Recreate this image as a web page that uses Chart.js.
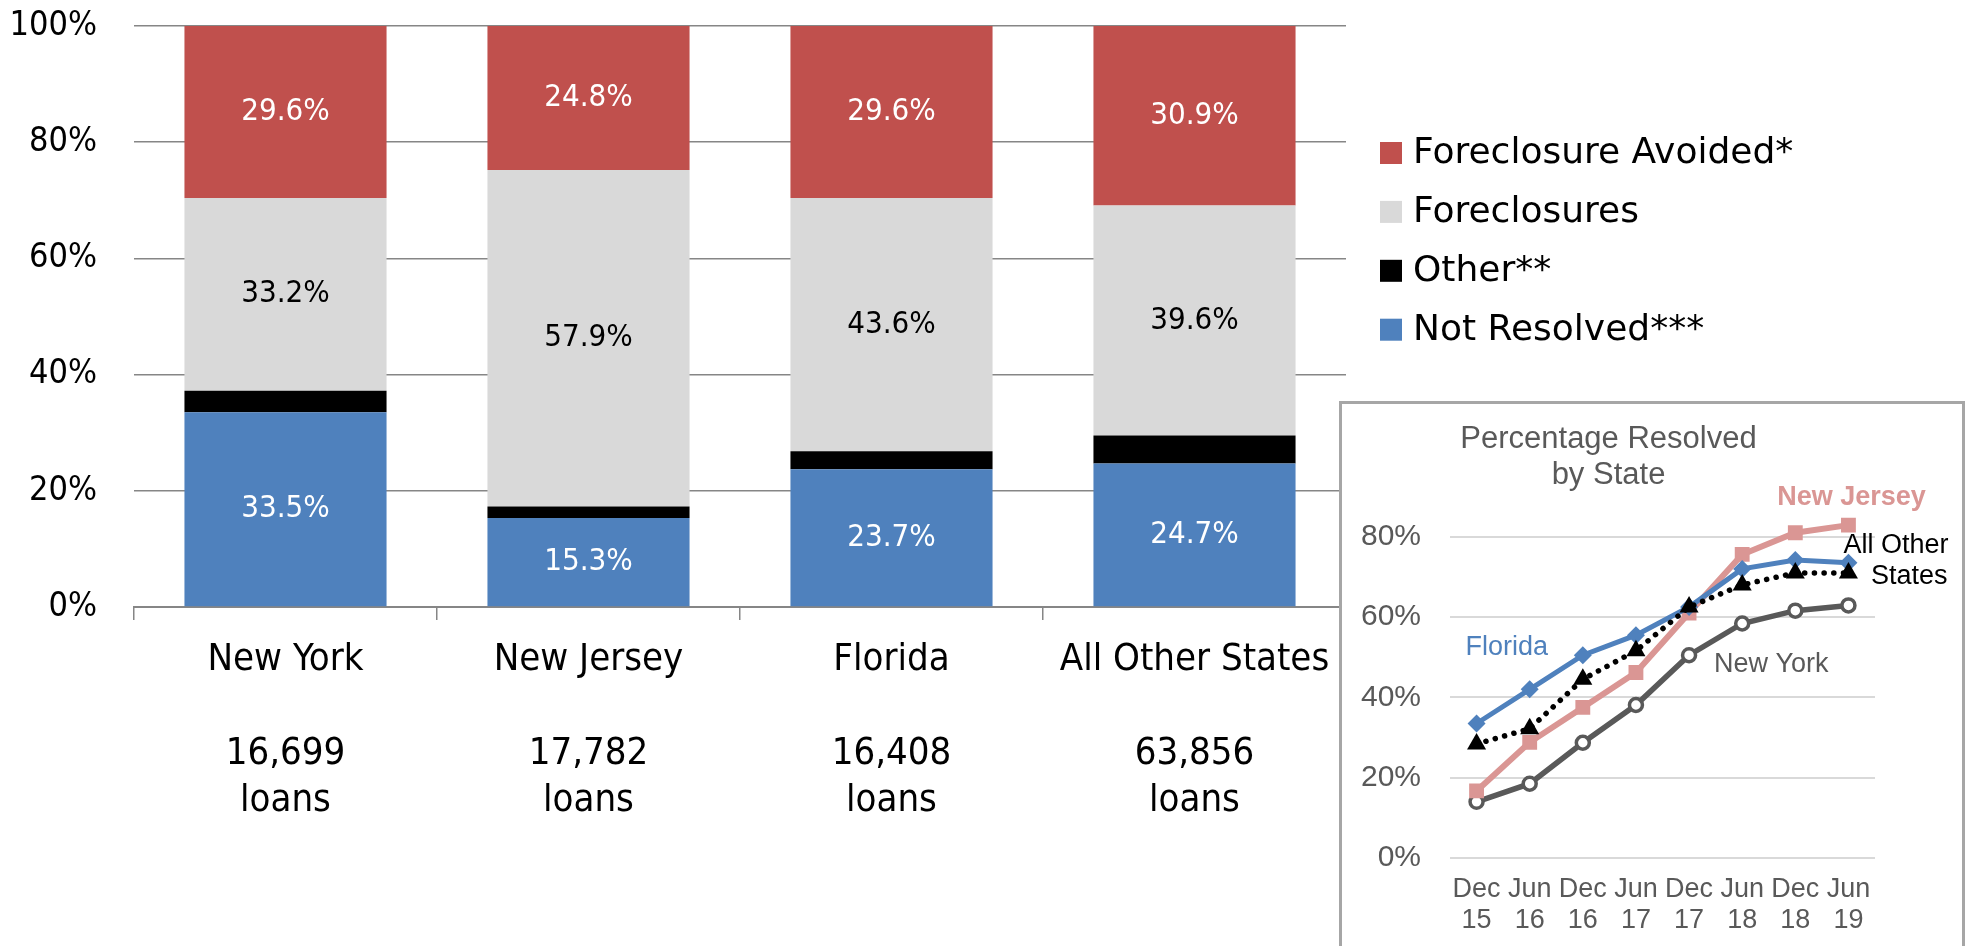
<!DOCTYPE html>
<html>
<head>
<meta charset="utf-8">
<script src="https://cdn.jsdelivr.net/npm/chart.js@4.4.1/dist/chart.umd.min.js"></script>
<style>
  html, body { margin: 0; padding: 0; background: #fff; }
  body { width: 1965px; height: 946px; position: relative; overflow: hidden; }
  #main-chart { position: absolute; left: 0; top: 0; }
  #inset-box {
    position: absolute; left: 1339px; top: 401px; width: 626px; height: 560px;
    box-sizing: border-box; border: 3px solid #a6a6a6; background: #fff;
  }
  #inset-chart { position: absolute; left: 0; top: 0; }
</style>
</head>
<body>
<canvas id="main-chart" width="1965" height="946"></canvas>
<div id="inset-box">
  <canvas id="inset-chart" width="620" height="542"></canvas>
</div>
<script>
// main stacked bars
const states = ['New York', 'New Jersey', 'Florida', 'All Other States'];
const loanCounts = ['16,699', '17,782', '16,408', '63,856'];
const notResolved = [33.5, 15.3, 23.7, 24.7];
const other = [3.7, 2.0, 3.1, 4.8];
const foreclosures = [33.2, 57.9, 43.6, 39.6];
const avoided = [29.6, 24.8, 29.6, 30.9];

// inset: percentage resolved by state
const periods = [['Dec', '15'], ['Jun', '16'], ['Dec', '16'], ['Jun', '17'],
                 ['Dec', '17'], ['Jun', '18'], ['Dec', '18'], ['Jun', '19']];
const florida = [33.5, 42.0, 50.5, 55.5, 62.5, 72.0, 74.2, 73.5];
const newJersey = [16.7, 28.8, 37.5, 46.2, 61.0, 75.6, 81.0, 82.9];
const newYork = [14.0, 18.5, 28.7, 38.1, 50.5, 58.4, 61.6, 62.9];
const allOther = [28.4, 32.2, 44.5, 51.6, 62.5, 68.0, 71.0, 71.0];

const MAIN_FONT = '"DejaVu Sans Condensed", "DejaVu Sans"';
const LEGEND_FONT = '"DejaVu Sans"';
const INSET_FONT = '"Liberation Sans"';

// series names written next to the lines
const insetNotes = [
  { text: 'New Jersey', index: 7, value: 87.9, dx: 3, align: 'center', color: '#da9694', weight: 'bold' },
  { text: 'All Other', index: 7, value: 75.9, dx: 100, align: 'right', color: '#000000', weight: 'normal' },
  { text: 'States', index: 7, value: 68.2, dx: 99, align: 'right', color: '#000000', weight: 'normal' },
  { text: 'Florida', index: 0, value: 50.5, dx: -11, align: 'left', color: '#4f81bd', weight: 'normal' },
  { text: 'New York', index: 4, value: 46.3, dx: 25, align: 'left', color: '#595959', weight: 'normal' }
];

const barLabels = {
  id: 'barLabels',
  afterDatasetsDraw(chart) {
    const { ctx } = chart;
    ctx.save();
    ctx.font = '31px ' + MAIN_FONT;
    ctx.textAlign = 'center';
    ctx.textBaseline = 'middle';
    chart.data.datasets.forEach((ds, i) => {
      if (!ds.labelColor) return;
      chart.getDatasetMeta(i).data.forEach((bar, j) => {
        const { x, y, base } = bar.getProps(['x', 'y', 'base'], true);
        ctx.fillStyle = ds.labelColor;
        ctx.fillText(ds.data[j].toFixed(1) + '%', x, (y + base) / 2);
      });
    });
    ctx.restore();
  }
};

// legend to the right of the bars, top series first
const sideLegend = {
  id: 'sideLegend',
  afterDraw(chart) {
    const { ctx, chartArea } = chart;
    const items = chart.data.datasets.map(ds => ({ text: ds.label, color: ds.backgroundColor })).reverse();
    ctx.save();
    ctx.font = '36px ' + LEGEND_FONT;
    ctx.textAlign = 'left';
    ctx.textBaseline = 'middle';
    items.forEach((item, i) => {
      const cy = chartArea.top + 127 + i * 58.9;
      ctx.fillStyle = item.color;
      ctx.fillRect(chartArea.right + 34, cy - 11, 22, 22);
      ctx.fillStyle = '#000';
      ctx.fillText(item.text, chartArea.right + 67, cy + 1);
    });
    ctx.restore();
  }
};

const mainChart = new Chart(document.getElementById('main-chart'), {
  type: 'bar',
  data: {
    labels: states.map((s, i) => [s, '', loanCounts[i], 'loans']),
    datasets: [
      { label: 'Not Resolved***', data: notResolved, backgroundColor: '#4f81bd', labelColor: '#ffffff' },
      { label: 'Other**', data: other, backgroundColor: '#000000' },
      { label: 'Foreclosures', data: foreclosures, backgroundColor: '#d9d9d9', labelColor: '#000000' },
      { label: 'Foreclosure Avoided*', data: avoided, backgroundColor: '#c0504d', labelColor: '#ffffff' }
    ]
  },
  options: {
    responsive: false,
    animation: false,
    layout: { padding: { top: 26, right: 619, bottom: 128, left: 0 } },
    datasets: { bar: { barPercentage: 0.667, categoryPercentage: 1, borderWidth: 0 } },
    scales: {
      x: {
        stacked: true,
        grid: { offset: true, drawOnChartArea: false, tickLength: 13, color: '#868686', lineWidth: 1.5 },
        border: { color: '#868686', width: 2 },
        ticks: {
          color: '#000', padding: 17, maxRotation: 0, autoSkip: false,
          font: { family: MAIN_FONT, size: 38, lineHeight: '47px' }
        },
        afterFit(scale) { scale.height = 211; }
      },
      y: {
        stacked: true,
        min: 0,
        max: 100,
        ticks: {
          stepSize: 20, padding: 37, color: '#000',
          font: { family: MAIN_FONT, size: 34 },
          callback: v => v + '%'
        },
        grid: { color: '#868686', lineWidth: 1.5, drawTicks: false },
        border: { display: false },
        afterFit(scale) {
          scale.width = 134;
          scale.paddingTop = 0;
          scale.paddingBottom = 0;
        }
      }
    },
    plugins: {
      legend: { display: false },
      tooltip: { enabled: false }
    }
  },
  plugins: [barLabels, sideLegend]
});

const insetLabels = {
  id: 'insetLabels',
  afterDatasetsDraw(chart) {
    const { ctx, scales: { x, y } } = chart;
    ctx.save();
    ctx.textBaseline = 'alphabetic';
    insetNotes.forEach(n => {
      ctx.font = n.weight + ' 27px ' + INSET_FONT;
      ctx.fillStyle = n.color;
      ctx.textAlign = n.align;
      ctx.fillText(n.text, x.getPixelForValue(n.index) + n.dx, y.getPixelForValue(n.value));
    });
    ctx.restore();
  }
};

const insetChart = new Chart(document.getElementById('inset-chart'), {
  type: 'line',
  data: {
    labels: periods,
    datasets: [
      { label: 'All Other States', data: allOther, borderColor: '#000000', backgroundColor: '#000000',
        borderWidth: 5.5, borderDash: [0.1, 9.6], borderCapStyle: 'round',
        pointStyle: 'triangle', pointRadius: 11, pointBorderWidth: 0 },
      { label: 'Florida', data: florida, borderColor: '#4f81bd', backgroundColor: '#4f81bd',
        borderWidth: 5, pointStyle: 'rectRot', pointRadius: 9, pointBorderWidth: 0 },
      { label: 'New Jersey', data: newJersey, borderColor: '#da9694', backgroundColor: '#da9694',
        borderWidth: 6, pointStyle: 'rect', pointRadius: 10.5, pointBorderWidth: 0 },
      { label: 'New York', data: newYork, borderColor: '#595959', backgroundColor: '#ffffff',
        borderWidth: 5.5, pointStyle: 'circle', pointRadius: 6.5, pointBorderWidth: 3.5, pointBorderColor: '#595959' }
    ]
  },
  options: {
    responsive: false,
    animation: false,
    layout: { padding: { top: 0, right: 87, bottom: 10, left: 0 } },
    scales: {
      x: {
        offset: true,
        grid: { display: false, drawTicks: false },
        border: { display: false },
        ticks: {
          padding: 16, color: '#595959', maxRotation: 0, autoSkip: false,
          font: { family: INSET_FONT, size: 27, lineHeight: '31px' }
        },
        afterFit(scale) { scale.height = 78; }
      },
      y: {
        min: 0,
        max: 90,
        ticks: {
          stepSize: 20, padding: 29, color: '#595959',
          font: { family: INSET_FONT, size: 30 },
          callback: v => v + '%'
        },
        afterBuildTicks(scale) { scale.ticks = scale.ticks.filter(t => t.value % 20 === 0); },
        grid: { color: '#d9d9d9', lineWidth: 2, drawTicks: false },
        border: { display: false },
        afterFit(scale) { scale.width = 108; }
      }
    },
    plugins: {
      legend: { display: false },
      tooltip: { enabled: false },
      title: {
        display: true,
        text: ['Percentage Resolved', 'by State'],
        color: '#595959',
        font: { family: INSET_FONT, size: 31, weight: 'normal', lineHeight: '36px' },
        padding: { top: 17, bottom: 3.6 }
      }
    }
  },
  plugins: [insetLabels]
});
</script>
</body>
</html>
